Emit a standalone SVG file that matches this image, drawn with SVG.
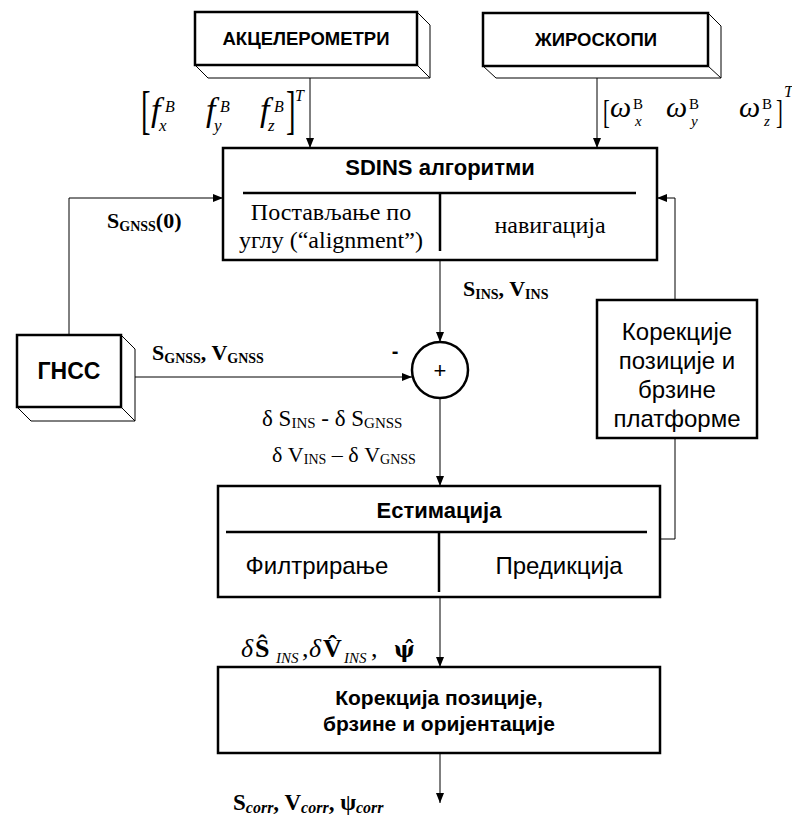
<svg xmlns="http://www.w3.org/2000/svg" width="792" height="816" viewBox="0 0 792 816">
<defs>
<marker id="ah" markerWidth="10" markerHeight="10" viewBox="0 0 10 10" refX="10" refY="5" orient="auto" markerUnits="userSpaceOnUse">
<path d="M0,1 L10,5 L0,9 z" fill="#000"/>
</marker>
<style>
.box{fill:#fff;stroke:#000;stroke-width:2.5}
.ext{fill:#fff;stroke:#000;stroke-width:1}
.dv{stroke:#000;stroke-width:2.5;fill:none}
.con{fill:none;stroke:#000;stroke-width:1}
.sb{font-family:"Liberation Sans",Arial,sans-serif;font-weight:bold;text-anchor:middle;fill:#000}
.sr{font-family:"Liberation Sans",Arial,sans-serif;text-anchor:middle;fill:#000}
.ser{font-family:"Liberation Serif","Times New Roman",serif;fill:#000}
.it{font-style:italic}
.bd{font-weight:bold}
</style>
</defs>
<rect width="792" height="816" fill="#fff"/>

<g id="connectors">
<path class="con" d="M310,78 V148" marker-end="url(#ah)"/>
<path class="con" d="M597,78 V148" marker-end="url(#ah)"/>
<path class="con" d="M69,335 V198 H223" marker-end="url(#ah)"/>
<path class="con" d="M121,377 H412" marker-end="url(#ah)"/>
<path class="con" d="M440,260 V342" marker-end="url(#ah)"/>
<path class="con" d="M440,398 V486" marker-end="url(#ah)"/>
<path class="con" d="M660,539 H675 V438"/>
<path class="con" d="M675,300 V198 H657" marker-end="url(#ah)"/>
<path class="con" d="M440,597 V667" marker-end="url(#ah)"/>
<path class="con" d="M440,753 V803" marker-end="url(#ah)"/>
</g>

<g id="accel">
<polygon class="ext" points="195,65 208,78 430,78 430,25 417,12"/>
<line class="ext" x1="417" y1="65" x2="430" y2="78"/>
<rect class="box" x="195" y="12" width="222" height="53"/>
<text class="sb" x="306" y="45" font-size="18.5">АКЦЕЛЕРОМЕТРИ</text>
</g>

<g id="gyro">
<polygon class="ext" points="483,66 496,78 721,78 721,26 708,13"/>
<line class="ext" x1="708" y1="66" x2="721" y2="78"/>
<rect class="box" x="483" y="13" width="225" height="53"/>
<text class="sb" x="596" y="46" font-size="18.5">ЖИРОСКОПИ</text>
</g>

<g id="sdins">
<rect class="box" x="223" y="148" width="434" height="112"/>
<line class="dv" x1="243" y1="193" x2="636" y2="193"/>
<line class="dv" x1="440" y1="193" x2="440" y2="251"/>
<text class="sb" x="440" y="175" font-size="22">SDINS алгоритми</text>
<text class="ser" x="331" y="220" font-size="24" text-anchor="middle">Постављање по</text>
<text class="ser" x="331" y="248" font-size="24" text-anchor="middle">углу (“alignment”)</text>
<text class="ser" x="550" y="233" font-size="24" text-anchor="middle">навигација</text>
</g>

<g id="gnss">
<polygon class="ext" points="17,407 31,421 135,421 135,349 121,335"/>
<line class="ext" x1="121" y1="407" x2="135" y2="421"/>
<rect class="box" x="17" y="335" width="104" height="72"/>
<text class="sb" x="69" y="379" font-size="23">ГНСС</text>
</g>

<g id="sum">
<circle cx="440" cy="370" r="28" fill="#fff" stroke="#000" stroke-width="2.5"/>
<text class="sr" x="440" y="378" font-size="22">+</text>
<text class="sb" x="395" y="358" font-size="20">-</text>
</g>

<g id="correction-feedback">
<rect class="box" x="597" y="300" width="160" height="138"/>
<text class="sr" x="677" y="340" font-size="24">Корекције</text>
<text class="sr" x="677" y="369" font-size="24">позиције и</text>
<text class="sr" x="677" y="398" font-size="24">брзине</text>
<text class="sr" x="677" y="427" font-size="24">платформе</text>
</g>

<g id="estimation">
<rect class="box" x="218" y="486" width="442" height="111"/>
<line class="dv" x1="226" y1="532" x2="647" y2="532"/>
<line class="dv" x1="439" y1="532" x2="439" y2="592"/>
<text class="sb" x="439" y="518" font-size="22">Естимација</text>
<text class="sr" x="317" y="574" font-size="24">Филтрирање</text>
<text class="sr" x="559" y="574" font-size="24">Предикција</text>
</g>

<g id="final-correction">
<rect class="box" x="218" y="667" width="442" height="86"/>
<text class="sb" x="439" y="705" font-size="21">Корекција позиције,</text>
<text class="sb" x="439" y="731" font-size="21">брзине и оријентације</text>
</g>

<g id="labels">
<text class="ser" font-size="52" transform="translate(141,128) scale(0.55,1)">[</text>
<text class="ser it" x="151" y="121" font-size="34">f</text>
<text class="ser it" x="165" y="112" font-size="16">B</text>
<text class="ser it" x="159" y="131" font-size="17">x</text>
<text class="ser it" x="206" y="121" font-size="34">f</text>
<text class="ser it" x="220" y="112" font-size="16">B</text>
<text class="ser it" x="214" y="131" font-size="17">y</text>
<text class="ser it" x="260" y="121" font-size="34">f</text>
<text class="ser it" x="274" y="112" font-size="16">B</text>
<text class="ser it" x="268" y="131" font-size="17">z</text>
<text class="ser" font-size="52" transform="translate(286,128) scale(0.55,1)">]</text>
<text class="ser it" x="295" y="101" font-size="16">T</text>

<text class="ser" font-size="34" transform="translate(603,123) scale(0.6,1)">[</text>
<text class="ser it" x="610" y="117" font-size="30">ω</text>
<text class="ser" x="633" y="109" font-size="15">B</text>
<text class="ser it" x="635" y="126" font-size="15">x</text>
<text class="ser it" x="666" y="117" font-size="30">ω</text>
<text class="ser" x="689" y="109" font-size="15">B</text>
<text class="ser it" x="691" y="126" font-size="15">y</text>
<text class="ser it" x="739" y="117" font-size="30">ω</text>
<text class="ser" x="762" y="109" font-size="15">B</text>
<text class="ser it" x="764" y="126" font-size="15">z</text>
<text class="ser" font-size="34" transform="translate(776,123) scale(0.6,1)">]</text>
<text class="ser it" x="784" y="97" font-size="16">T</text>

<text class="ser bd" x="107" y="228" font-size="22">S<tspan font-size="14" dy="3">GNSS</tspan><tspan dy="-3">(0)</tspan></text>
<text class="ser bd" x="152" y="360" font-size="22">S<tspan font-size="14" dy="3">GNSS</tspan><tspan dy="-3">, V</tspan><tspan font-size="14" dy="3">GNSS</tspan></text>
<text class="ser bd" x="463" y="296" font-size="22">S<tspan font-size="14" dy="3">INS</tspan><tspan dy="-3">, V</tspan><tspan font-size="14" dy="3">INS</tspan></text>
<text class="ser" x="262" y="426" font-size="23">δ S<tspan font-size="15" dy="2">INS</tspan><tspan dy="-2"> - δ S</tspan><tspan font-size="15" dy="2">GNSS</tspan></text>
<text class="ser" x="272" y="462" font-size="22">δ V<tspan font-size="14" dy="2">INS</tspan><tspan dy="-2"> – δ V</tspan><tspan font-size="14" dy="2">GNSS</tspan></text>

<text class="ser" y="657" font-size="26"><tspan class="it" x="241">δ</tspan><tspan class="bd" x="255">Ŝ</tspan><tspan class="it" font-size="15" x="276" dy="6">INS</tspan><tspan x="302" dy="-6">,</tspan><tspan class="it" x="309">δ</tspan><tspan class="bd" x="323">V̂</tspan><tspan class="it" font-size="15" x="344" dy="6">INS</tspan><tspan x="371" dy="-6">,</tspan><tspan class="bd" x="394" font-family="'DejaVu Serif',serif" font-size="22">ψ̂</tspan></text>

<text class="ser bd" x="233" y="810" font-size="23">S<tspan class="it" font-size="16" dy="3">corr</tspan><tspan dy="-3">, V</tspan><tspan class="it" font-size="16" dy="3">corr</tspan><tspan dy="-3">, ψ</tspan><tspan class="it" font-size="16" dy="3">corr</tspan></text>
</g>
</svg>
